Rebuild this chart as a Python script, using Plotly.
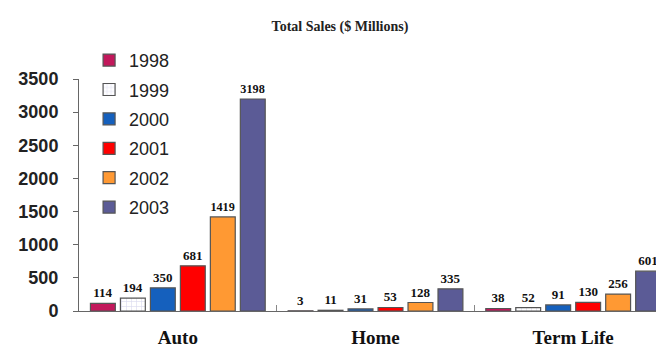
import plotly.graph_objects as go

categories = ["Auto", "Home", "Term Life"]
years = ["1998", "1999", "2000", "2001", "2002", "2003"]
sales = {
    "1998": [114, 3, 38],
    "1999": [194, 11, 52],
    "2000": [350, 31, 91],
    "2001": [681, 53, 130],
    "2002": [1419, 128, 256],
    "2003": [3198, 335, 601],
}
colors = {
    "1998": "#C2185B",
    "1999": "#FFFFFF",
    "2000": "#1560BD",
    "2001": "#FF0000",
    "2002": "#FF9933",
    "2003": "#5B5B96",
}
y_ticks = [0, 500, 1000, 1500, 2000, 2500, 3000, 3500]

fig = go.Figure()
for yr in years:
    marker = dict(color=colors[yr], line=dict(color="#555555", width=1.2))
    if yr == "1999":
        marker["pattern"] = dict(shape="+", fgcolor="#B8B8E0", bgcolor="#FFFFFF",
                                 size=5, solidity=0.25)
    fig.add_trace(go.Bar(
        x=categories, y=sales[yr], name=yr, legendgroup=yr,
        marker=marker,
        text=[str(v) for v in sales[yr]], textposition="outside",
        textfont=dict(family="Liberation Serif", size=13, color="#111111",
                      weight="bold"),
        cliponaxis=False,
    ))

fig.update_layout(
    width=664, height=352,
    margin=dict(l=71, r=0, t=71, b=49, autoexpand=False),
    paper_bgcolor="white", plot_bgcolor="white",
    barmode="group", bargap=0.09, bargroupgap=0.17,
    title=dict(text="Total Sales ($ Millions)", x=0.5, xref="container",
               xanchor="center", y=0.95, yref="container", yanchor="middle",
               font=dict(family="Liberation Serif", size=14, color="#222222",
                         weight="bold")),
    legend=dict(x=0.017, y=1.16, xanchor="left", yanchor="top",
                bgcolor="rgba(0,0,0,0)", tracegroupgap=3, maxheight=400,
                font=dict(family="Liberation Sans", size=18, color="#222222")),
    showlegend=True,
)
fig.update_xaxes(
    automargin=False,
    showline=True, linecolor="#666666", linewidth=1,
    ticks="inside", tickson="boundaries", ticklen=6, tickcolor="#888888",
    ticklabelstandoff=9,
    tickfont=dict(family="Liberation Serif", size=19, color="#111111",
                  weight="bold"),
)
fig.update_yaxes(
    automargin=False,
    range=[0, 3500], tickvals=y_ticks, showgrid=False, zeroline=False,
    showline=True, linecolor="#666666", linewidth=1,
    ticks="outside", ticklen=5, tickcolor="#666666",
    ticklabelstandoff=11,
    tickfont=dict(family="Liberation Sans", size=18, color="#222222",
                  weight="bold"),
)

fig.write_html("out.html")
